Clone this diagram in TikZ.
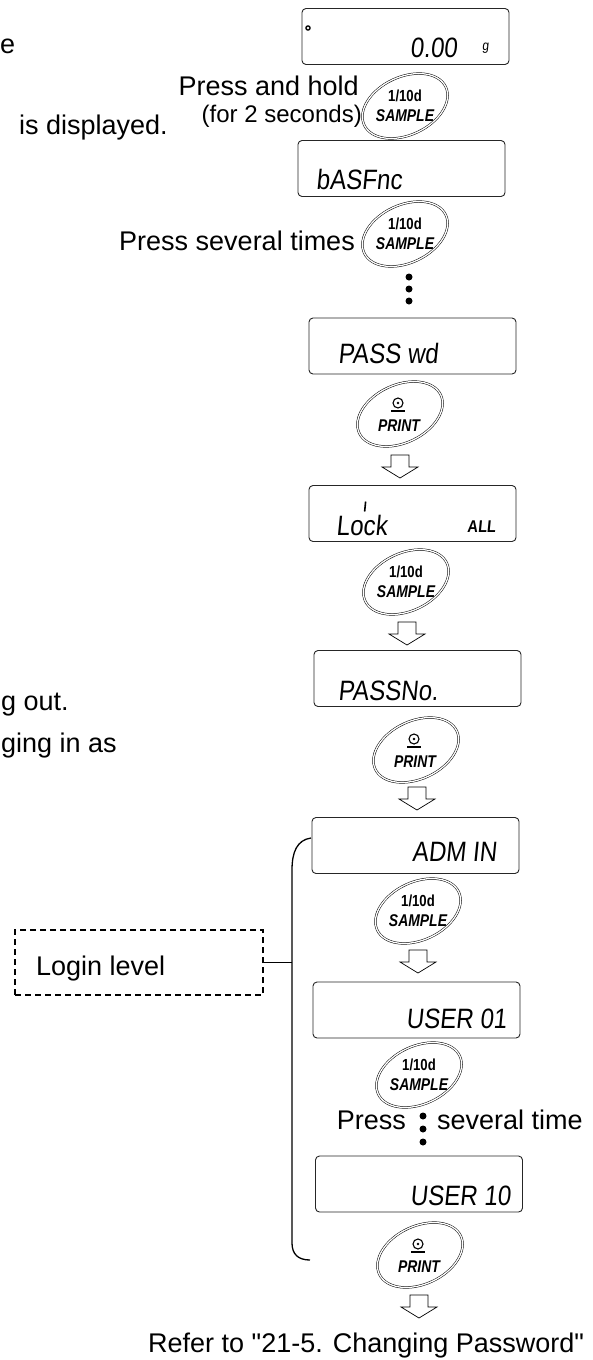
\documentclass[tikz,border=0pt]{standalone}
\usepackage{fontspec}
\setmainfont{Liberation Sans}
\newfontfamily\btnfont[FakeStretch=0.82]{Liberation Sans}
\newfontfamily\lcdfont[FakeStretch=0.86,FakeSlant=0.1]{Liberation Sans}
\font\quotefont="Liberation Sans:" at 27pt
\tikzset{
  lcd/.style={draw=black!85, line width=0.9pt, rounded corners=4pt, inner sep=0pt, minimum width=207pt, minimum height=56pt},
  lcdtxt/.style={font=\lcdfont\fontsize{28}{28}\selectfont, inner sep=0pt, anchor=base west},
  lbl/.style={font=\fontsize{27}{30}\selectfont, inner sep=0pt},
  keytxt/.style={inner sep=0pt, align=center},
  keyring/.style={draw=black, line width=0.5pt, double=white, double distance=1.3pt},
  bulletdot/.style={fill=black, circle, inner sep=0pt, minimum size=7pt},
  harrow/.pic={\draw[line width=0.7pt, fill=white] (-9,0) -- (9,0) -- (9,12) -- (18,12) -- (0,23) -- (-18,12) -- (-9,12) -- cycle;},
  loginbox/.style={draw, dash pattern=on 6pt off 4pt, line width=1.1pt, minimum width=248pt, minimum height=65pt, inner sep=0pt},
  bracket/.style={line width=1.3pt},
}
\newcommand\samplekey[3]{%
  \node[keytxt, font=\btnfont\bfseries\fontsize{16}{20}\selectfont] (#1) at (#2,#3) {1/10d\\{\itshape\fontsize{17}{20}\selectfont SAMPLE}};
  \draw[keyring, rotate around={25:(#1.center)}] (#1.center) ellipse (45pt and 29pt);
}
\newcommand\printkey[3]{%
  \coordinate (#1) at (#2,#3);
  \node[keytxt, font=\btnfont\bfseries\itshape\fontsize{17}{18}\selectfont] (#1t) at (#2-1,#3+12) {PRINT};
  \draw[line width=1.1pt] (#2-2,#3-11) circle (5pt);
  \fill (#2-2,#3-11) circle (1.4pt);
  \draw[line width=1.2pt] (#2-9,#3-3) -- (#2+5,#3-3);
  \draw[keyring, rotate around={25:(#1)}] (#1) ellipse (45pt and 29pt);
}
\begin{document}
\begin{tikzpicture}[x=1pt,y=-1pt]
\useasboundingbox (0,0) rectangle (592,1360);
\fill[white] (0,0) rectangle (592,1360);

% left-side texts
\node[lbl, anchor=base west] (te) at (0,53) {e};
\node[lbl, anchor=base east] (tpress) at (359,95) {Press and hold};
\node[lbl, anchor=base east, font=\fontsize{24}{26}\selectfont] (tfor) at (362,122) {(for 2 seconds)};
\node[lbl, anchor=base east] (tdisp) at (168,134) {is displayed.};
\node[lbl, anchor=base east] (tsev) at (355,250) {Press several times};
\node[lbl, anchor=base west] (tout) at (1,710) {g out.};
\node[lbl, anchor=base west] (tin) at (1,752) {ging in as};

% displays
\node[lcd] (d1) at (405.5,36.5) {};
\fill[black] (308,28) circle (2.8pt);
\fill[white] (308,28) circle (1.4pt);
\node[lcdtxt] (d1t) at (410,57) {0.00};
\node[lcdtxt, font=\lcdfont\fontsize{14}{14}\selectfont] (d1g) at (482,50) {g};

\node[lcd] (d2) at (401.5,168.5) {};
\node[lcdtxt] (d2t) at (316,189) {bASFnc};

\node[lcd] (d3) at (412.5,346) {};
\node[lcdtxt] (d3t) at (338,363) {PASS wd};

\node[lcd] (d4) at (412.5,513.5) {};
\node[lcdtxt] (d4t) at (336,535) {Lock};
\draw[line width=1.6pt] (d4t.north) ++(3,-3) coordinate (tk1) -- ++(1,-10) coordinate (tk2);
\node[lcdtxt, font=\lcdfont\bfseries\fontsize{17}{17}\selectfont] (d4a) at (467,532) {ALL};

\node[lcd] (d5) at (417.5,678.5) {};
\node[lcdtxt] (d5t) at (338,700) {PASSNo.};

\node[lcd] (d6) at (415.5,845.5) {};
\node[lcdtxt] (d6t) at (412,861) {ADM IN};

\node[lcd] (d7) at (416.5,1010) {};
\node[lcdtxt] (d7t) at (406,1028) {USER 01};

\node[lcd] (d8) at (419,1184) {};
\node[lcdtxt] (d8t) at (410,1205) {USER 10};

% keys
\samplekey{k1}{405}{106}
\samplekey{k2}{405}{234}
\node[bulletdot] (p1) at (409,277) {};
\node[bulletdot] (p2) at (409,289) {};
\node[bulletdot] (p3) at (409,301) {};
\printkey{k3}{400}{414}
\pic (a1) at (400,455) {harrow};
\samplekey{k4}{406}{582}
\pic (a2) at (407,622) {harrow};
\printkey{k5}{416}{750}
\pic (a3) at (417,787) {harrow};
\samplekey{k6}{418}{911}
\pic (a4) at (418,950) {harrow};
\samplekey{k7}{419}{1075}
\node[bulletdot] (q1) at (423,1116) {};
\node[bulletdot] (q2) at (423,1129) {};
\node[bulletdot] (q3) at (423,1142) {};
\node[lbl, anchor=base east] (tp2) at (406,1129) {Press};
\node[lbl, anchor=base west] (tsev2) at (437,1129) {several time};
\printkey{k8}{420}{1255}
\pic (a5) at (419,1295) {harrow};

% login level bracket
\node[loginbox] (login) at (139,962.5) {};
\node[lbl, anchor=base west] (logint) at (36,975) {Login level};
\coordinate (bt) at (311,838);
\coordinate (bb) at (310,1260);
\coordinate (bm) at (292,962.5);
\draw[bracket] (bt) .. controls (297,840) and (292,852) .. (292,870) -- (292,1243) .. controls (292,1254) and (298,1260) .. (bb);
\draw[line width=1.1pt] (login.east) -- (bm);

\node[lbl, anchor=base west] (tref) at (148,1352) {Refer to {\quotefont"}21-5. Changing Password{\quotefont"}};
\end{tikzpicture}
\end{document}
